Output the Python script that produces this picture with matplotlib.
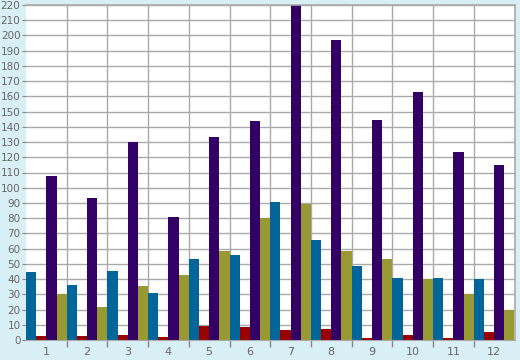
import matplotlib.pyplot as plt
import numpy as np

months = [str(i) for i in range(1, 13)]
blue = [44.5, 36, 45, 31, 53, 56, 90.5, 66, 48.5, 41, 40.5, 40]
red = [2.5, 2.5, 3, 2, 9.5, 8.5, 6.5, 7, 1.5, 3.5, 1.5, 5.5]
purple = [107.5, 93, 130, 81, 133, 144, 220, 197, 144.5, 163, 123.5, 115]
olive = [30, 22, 35.5, 42.5, 58.5, 80, 89, 58.5, 53, 40, 30, 20]

series = [blue, red, purple, olive]
colors = ['#006699', '#990000', '#330066', '#999933']

bg = '#d9eff6'
fig = plt.figure(figsize=(5.2, 3.6), dpi=100, facecolor=bg)
ax = fig.add_axes([26 / 520, 20 / 360, 488.5 / 520, 335 / 360])
ax.set_facecolor('white')

x = np.arange(1, 13)
w = 0.25
for k, (vals, c) in enumerate(zip(series, colors)):
    ax.bar(x - 0.5 + w * (k + 0.5), vals, width=w, color=c, linewidth=0, zorder=2)

ax.set_xlim(0.5, 12.5)
ax.set_ylim(0, 220)
ax.set_yticks(range(0, 221, 10))
ax.set_xticks(x)
ax.set_xticklabels(months)
ax.set_xticks(np.arange(1.5, 12.5, 1), minor=True)
ax.grid(True, which='minor', axis='x', color='#aaaaaa', linewidth=1, zorder=1)
ax.grid(True, which='major', axis='y', color='#aaaaaa', linewidth=1, zorder=1)

ax.tick_params(axis='x', which='major', length=0, pad=5, labelsize=8, labelcolor='#666666')
ax.tick_params(axis='x', which='minor', length=5, color='#888888', width=1)
ax.tick_params(axis='y', length=3, color='#888888', pad=1, labelsize=7.5, labelcolor='#666666')

for side in ['top', 'right']:
    ax.spines[side].set_color('#aaaaaa')
    ax.spines[side].set_linewidth(1.2)
ax.spines['left'].set_visible(False)
ax.spines['bottom'].set_color('#aaaaaa')

fig.savefig('out.png', dpi=100, facecolor=bg)
